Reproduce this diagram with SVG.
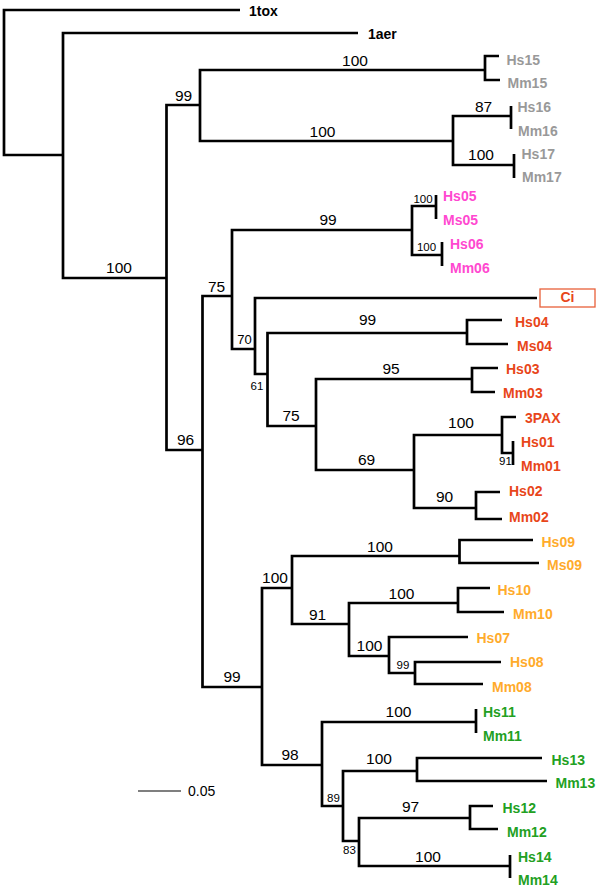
<svg xmlns="http://www.w3.org/2000/svg" width="600" height="888" viewBox="0 0 600 888">
<style>
.br{fill:none;stroke:#000;stroke-width:2.7;stroke-linejoin:miter;stroke-linecap:butt}
.sb{fill:none;stroke:#000;stroke-width:1.2}
.lf{font-family:"Liberation Sans",Arial,sans-serif;font-weight:bold;font-size:14px}
.bs{font-family:"Liberation Sans",Arial,sans-serif;font-size:15.5px;fill:#000;text-anchor:middle}
.bm{font-family:"Liberation Sans",Arial,sans-serif;font-size:13px;fill:#000;text-anchor:middle}
.bt{font-family:"Liberation Sans",Arial,sans-serif;font-size:11.5px;fill:#000;text-anchor:middle}
.k{fill:#000}.g{fill:#999}.p{fill:#ff48d0}.r{fill:#e8461a}.o{fill:#ffab2b}.n{fill:#22a022}
</style>
<rect width="600" height="888" fill="#fff"/>
<g id="connectors">
<path class="br" d="M240 10H4V155H63"/>
<path class="br" d="M358 33H63V278H166.5"/>
<path class="br" d="M200 105H166.5V450H202.5"/>
<path class="br" d="M485 70H200V141H453"/>
<path class="br" d="M499 56H485V80H500"/>
<path class="br" d="M511 116H453V165H514"/>
<path class="br" d="M511 106V129"/>
<path class="br" d="M514 154V178"/>
<path class="br" d="M232 296H202.5V687H262"/>
<path class="br" d="M412 230H232V349H255"/>
<path class="br" d="M436 206H412V255H442"/>
<path class="br" d="M436 195V219"/>
<path class="br" d="M442 242V266"/>
<path class="br" d="M537 298H255V374H267.5"/>
<path class="br" d="M467 333H267.5V426H316"/>
<path class="br" d="M502 320H467V344H508"/>
<path class="br" d="M472 379H316V470H414"/>
<path class="br" d="M498 368H472V392H495"/>
<path class="br" d="M502 435H414V508H476"/>
<path class="br" d="M516 417H502V453H513"/>
<path class="br" d="M513 441V465"/>
<path class="br" d="M500 492H476V519H502"/>
<path class="br" d="M292 588H262V765H322"/>
<path class="br" d="M459.5 556H292V624H349"/>
<path class="br" d="M533 540H459.5V563H539"/>
<path class="br" d="M458 603H349V656H389"/>
<path class="br" d="M490 588H458V612H504"/>
<path class="br" d="M468 637H389V673H415"/>
<path class="br" d="M501 662H415V684H483"/>
<path class="br" d="M476 722H322V806H343"/>
<path class="br" d="M476 709V733"/>
<path class="br" d="M417 771H343V841H359"/>
<path class="br" d="M542 758H417V781H547"/>
<path class="br" d="M470 818H359V866H510"/>
<path class="br" d="M493 806H470V829H498"/>
<path class="br" d="M510 855V878"/>
</g>
<g id="bootstrap">
<text class="bs" x="183.5" y="101">99</text>
<text class="bs" x="355" y="66">100</text>
<text class="bs" x="322.5" y="137">100</text>
<text class="bs" x="483.5" y="112">87</text>
<text class="bs" x="481" y="160">100</text>
<text class="bs" x="119" y="273">100</text>
<text class="bs" x="216.5" y="292">75</text>
<text class="bs" x="328" y="225">99</text>
<text class="bt" x="423" y="203">100</text>
<text class="bt" x="426.5" y="251">100</text>
<text class="bm" x="244.5" y="344">70</text>
<text class="bs" x="367.5" y="325">99</text>
<text class="bt" x="257" y="390">61</text>
<text class="bs" x="291" y="421">75</text>
<text class="bs" x="391" y="374">95</text>
<text class="bs" x="461" y="428">100</text>
<text class="bs" x="366.5" y="465">69</text>
<text class="bt" x="505.5" y="465">91</text>
<text class="bs" x="444.5" y="502">90</text>
<text class="bs" x="185.5" y="445">96</text>
<text class="bs" x="380" y="552">100</text>
<text class="bs" x="275" y="583">100</text>
<text class="bs" x="317.5" y="620">91</text>
<text class="bs" x="401.5" y="599">100</text>
<text class="bs" x="369.5" y="651">100</text>
<text class="bt" x="403" y="669">99</text>
<text class="bs" x="232" y="682">99</text>
<text class="bs" x="398.5" y="717">100</text>
<text class="bs" x="290" y="760">98</text>
<text class="bs" x="379" y="764">100</text>
<text class="bt" x="333.5" y="802">89</text>
<text class="bs" x="410.5" y="812">97</text>
<text class="bt" x="349.5" y="854">83</text>
<text class="bs" x="428" y="862">100</text>
</g>
<g id="scale">
<path class="sb" d="M138 791H181"/>
<text x="188" y="796" font-family="Liberation Sans, Arial, sans-serif" font-size="14">0.05</text>
</g>
<g id="leaf-1tox"><text class="lf k" x="249" y="16">1tox</text></g>
<g id="leaf-1aer"><text class="lf k" x="368" y="39">1aer</text></g>
<g id="leaf-Hs15"><text class="lf g" x="506.5" y="65">Hs15</text></g>
<g id="leaf-Mm15"><text class="lf g" x="507.5" y="88">Mm15</text></g>
<g id="leaf-Hs16"><text class="lf g" x="517.5" y="112">Hs16</text></g>
<g id="leaf-Mm16"><text class="lf g" x="518" y="136">Mm16</text></g>
<g id="leaf-Hs17"><text class="lf g" x="521.5" y="159">Hs17</text></g>
<g id="leaf-Mm17"><text class="lf g" x="522" y="182">Mm17</text></g>
<g id="leaf-Hs05"><text class="lf p" x="443" y="201">Hs05</text></g>
<g id="leaf-Ms05"><text class="lf p" x="443" y="225">Ms05</text></g>
<g id="leaf-Hs06"><text class="lf p" x="450" y="249">Hs06</text></g>
<g id="leaf-Mm06"><text class="lf p" x="450" y="273">Mm06</text></g>
<g id="leaf-Ci"><rect x="540" y="289" width="55" height="18" fill="#fff" stroke="#e8603a" stroke-width="1.3"/><text class="lf r" x="567.5" y="302" text-anchor="middle">Ci</text></g>
<g id="leaf-Hs04"><text class="lf r" x="515" y="327">Hs04</text></g>
<g id="leaf-Ms04"><text class="lf r" x="517" y="351">Ms04</text></g>
<g id="leaf-Hs03"><text class="lf r" x="506" y="374">Hs03</text></g>
<g id="leaf-Mm03"><text class="lf r" x="503" y="398">Mm03</text></g>
<g id="leaf-3PAX"><text class="lf r" x="525" y="423">3PAX</text></g>
<g id="leaf-Hs01"><text class="lf r" x="521" y="447">Hs01</text></g>
<g id="leaf-Mm01"><text class="lf r" x="521" y="471">Mm01</text></g>
<g id="leaf-Hs02"><text class="lf r" x="509" y="496">Hs02</text></g>
<g id="leaf-Mm02"><text class="lf r" x="509" y="522">Mm02</text></g>
<g id="leaf-Hs09"><text class="lf o" x="541.5" y="547">Hs09</text></g>
<g id="leaf-Ms09"><text class="lf o" x="547" y="570">Ms09</text></g>
<g id="leaf-Hs10"><text class="lf o" x="497.5" y="595">Hs10</text></g>
<g id="leaf-Mm10"><text class="lf o" x="513" y="619">Mm10</text></g>
<g id="leaf-Hs07"><text class="lf o" x="476.5" y="643">Hs07</text></g>
<g id="leaf-Hs08"><text class="lf o" x="510" y="667">Hs08</text></g>
<g id="leaf-Mm08"><text class="lf o" x="492" y="692">Mm08</text></g>
<g id="leaf-Hs11"><text class="lf n" x="483" y="717">Hs11</text></g>
<g id="leaf-Mm11"><text class="lf n" x="483" y="741">Mm11</text></g>
<g id="leaf-Hs13"><text class="lf n" x="551.5" y="765">Hs13</text></g>
<g id="leaf-Mm13"><text class="lf n" x="555.5" y="788">Mm13</text></g>
<g id="leaf-Hs12"><text class="lf n" x="502.5" y="813">Hs12</text></g>
<g id="leaf-Mm12"><text class="lf n" x="507" y="837">Mm12</text></g>
<g id="leaf-Hs14"><text class="lf n" x="518" y="862">Hs14</text></g>
<g id="leaf-Mm14"><text class="lf n" x="518" y="885">Mm14</text></g>
</svg>
